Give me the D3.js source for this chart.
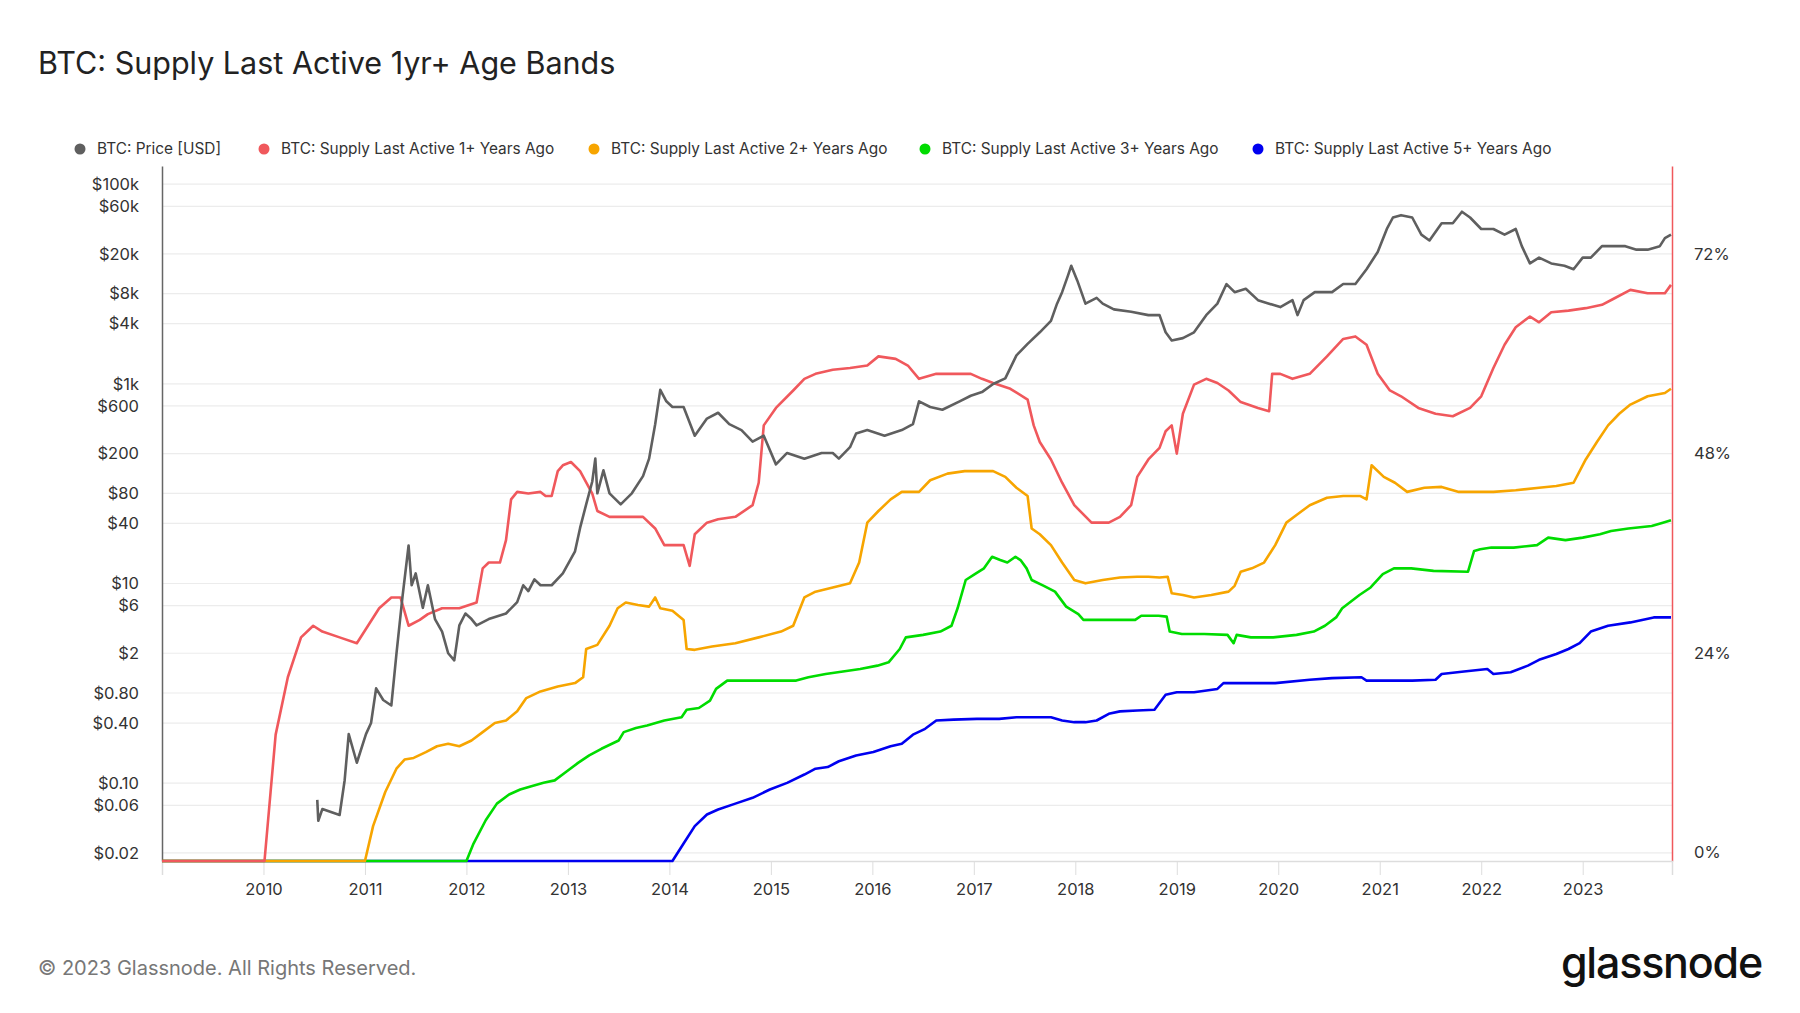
<!DOCTYPE html>
<html><head><meta charset="utf-8">
<script src="https://cdn.jsdelivr.net/npm/d3@7"></script>
<style>body{margin:0;background:#fff;font-family:Inter,"Noto Sans",sans-serif;}</style>
</head><body><svg id="c" width="1800" height="1013"></svg>
<script>
const priceTicks=[0.02,0.06,0.10,0.40,0.80,2,6,10,40,80,200,600,1000,4000,8000,20000,60000,100000];
const priceTickLabels=["$0.02","$0.06","$0.10","$0.40","$0.80","$2","$6","$10","$40","$80","$200","$600","$1k","$4k","$8k","$20k","$60k","$100k"];
const pctTicks=[0,24,48,72];
const yearTicks=[2010,2011,2012,2013,2014,2015,2016,2017,2018,2019,2020,2021,2022,2023];
const seriesNames=["BTC: Price [USD]","BTC: Supply Last Active 1+ Years Ago","BTC: Supply Last Active 2+ Years Ago","BTC: Supply Last Active 3+ Years Ago","BTC: Supply Last Active 5+ Years Ago"];
const seriesColors=["#5f5f5f","#f0585c","#f7a500","#00dc00","#0000f0"];

const price=[[2010.53,0.068],[2010.54,0.042],[2010.58,0.055],[2010.75,0.048],[2010.80,0.107],[2010.84,0.31],[2010.92,0.16],[2011.01,0.31],[2011.06,0.40],[2011.11,0.89],[2011.18,0.68],[2011.26,0.6],[2011.31,1.96],[2011.37,7.4],[2011.43,24],[2011.46,9.6],[2011.50,12.6],[2011.57,5.7],[2011.62,9.6],[2011.69,4.4],[2011.76,3.3],[2011.82,2.0],[2011.88,1.7],[2011.93,3.8],[2011.99,5.0],[2012.05,4.4],[2012.10,3.8],[2012.22,4.4],[2012.39,5.0],[2012.50,6.5],[2012.56,9.6],[2012.61,8.4],[2012.67,11],[2012.73,9.6],[2012.84,9.6],[2012.95,12.6],[2013.07,21],[2013.12,36],[2013.18,62],[2013.24,105],[2013.27,178],[2013.29,80],[2013.35,136],[2013.41,80],[2013.52,62],[2013.63,80],[2013.74,119],[2013.80,178],[2013.86,394],[2013.91,870],[2013.97,668],[2014.03,586],[2014.14,586],[2014.25,302],[2014.37,449],[2014.48,513],[2014.59,394],[2014.71,344],[2014.82,264],[2014.93,302],[2015.05,156],[2015.16,203],[2015.33,178],[2015.50,203],[2015.61,203],[2015.67,178],[2015.78,232],[2015.84,318],[2015.95,344],[2016.12,302],[2016.29,344],[2016.40,394],[2016.46,668],[2016.57,586],[2016.69,550],[2016.86,668],[2016.97,760],[2017.08,826],[2017.19,995],[2017.31,1135],[2017.42,1928],[2017.53,2512],[2017.65,3281],[2017.76,4276],[2017.82,6353],[2017.87,8279],[2017.93,12330],[2017.96,15240],[2018.02,10790],[2018.10,6353],[2018.21,7260],[2018.27,6353],[2018.38,5570],[2018.55,5280],[2018.72,4875],[2018.83,4875],[2018.89,3281],[2018.95,2720],[2019.06,2870],[2019.17,3281],[2019.29,4875],[2019.40,6353],[2019.49,9980],[2019.57,8279],[2019.68,8970],[2019.80,6890],[2019.91,6353],[2020.02,5870],[2020.14,6890],[2020.19,4875],[2020.25,6890],[2020.36,8279],[2020.53,8279],[2020.64,9980],[2020.76,9980],[2020.87,14060],[2020.98,20940],[2021.07,35560],[2021.13,46350],[2021.21,48900],[2021.32,46350],[2021.41,31190],[2021.49,27300],[2021.61,40640],[2021.72,40640],[2021.81,52950],[2021.89,46350],[2022.00,35560],[2022.12,35560],[2022.23,31190],[2022.34,35560],[2022.40,23930],[2022.48,16070],[2022.57,18350],[2022.69,16070],[2022.82,15240],[2022.91,14060],[2023.00,18350],[2023.08,18350],[2023.19,23930],[2023.30,23930],[2023.42,23930],[2023.53,22080],[2023.64,22080],[2023.76,23930],[2023.81,28780],[2023.87,31190]];

const supply1y=[[2009.0,-1],[2010.01,-1],[2010.07,7.3],[2010.12,14.2],[2010.24,21.1],[2010.37,25.9],[2010.49,27.3],[2010.58,26.6],[2010.75,25.9],[2010.92,25.2],[2011.03,27.3],[2011.14,29.4],[2011.26,30.7],[2011.35,30.7],[2011.43,27.3],[2011.54,28.0],[2011.62,28.7],[2011.76,29.4],[2011.93,29.4],[2012.10,30.1],[2012.16,34.2],[2012.22,34.9],[2012.33,34.9],[2012.39,37.6],[2012.44,42.5],[2012.50,43.4],[2012.61,43.2],[2012.73,43.4],[2012.78,42.9],[2012.84,42.9],[2012.90,45.9],[2012.95,46.6],[2013.03,47.0],[2013.12,45.9],[2013.24,43.2],[2013.29,41.1],[2013.41,40.4],[2013.57,40.4],[2013.74,40.4],[2013.86,39.0],[2013.95,37.0],[2014.14,37.0],[2014.20,34.5],[2014.25,38.3],[2014.37,39.7],[2014.48,40.1],[2014.65,40.4],[2014.82,41.8],[2014.88,44.5],[2014.93,51.4],[2015.05,53.5],[2015.22,55.6],[2015.33,57.0],[2015.44,57.6],[2015.61,58.1],[2015.78,58.3],[2015.95,58.6],[2016.06,59.7],[2016.23,59.4],[2016.35,58.6],[2016.46,57.0],[2016.63,57.6],[2016.80,57.6],[2016.97,57.6],[2017.08,57.0],[2017.19,56.5],[2017.36,55.8],[2017.53,54.5],[2017.59,51.4],[2017.65,49.4],[2017.76,47.3],[2017.87,44.5],[2017.99,41.8],[2018.16,39.7],[2018.33,39.7],[2018.44,40.4],[2018.55,41.8],[2018.61,45.2],[2018.72,47.3],[2018.83,48.7],[2018.89,50.7],[2018.95,51.4],[2019.00,48.0],[2019.06,52.8],[2019.17,56.3],[2019.29,57.0],[2019.40,56.5],[2019.51,55.6],[2019.63,54.2],[2019.80,53.5],[2019.91,53.1],[2019.94,57.6],[2020.02,57.6],[2020.14,57.0],[2020.31,57.6],[2020.48,59.7],[2020.64,61.8],[2020.76,62.1],[2020.87,61.1],[2020.98,57.6],[2021.10,55.6],[2021.21,54.9],[2021.38,53.5],[2021.55,52.8],[2021.72,52.5],[2021.89,53.5],[2022.00,54.9],[2022.12,58.3],[2022.23,61.1],[2022.34,63.2],[2022.48,64.5],[2022.57,63.8],[2022.69,65.0],[2022.86,65.2],[2023.03,65.5],[2023.19,65.9],[2023.30,66.6],[2023.47,67.7],[2023.64,67.3],[2023.81,67.3],[2023.87,68.3]];

const supply2y=[[2009.0,-1],[2011.0,-1],[2011.08,3.2],[2011.20,7.3],[2011.31,10.1],[2011.39,11.2],[2011.48,11.4],[2011.60,12.1],[2011.71,12.8],[2011.82,13.1],[2011.93,12.8],[2012.05,13.5],[2012.16,14.5],[2012.28,15.6],[2012.39,15.9],[2012.50,17.0],[2012.59,18.6],[2012.73,19.4],[2012.90,20.0],[2013.07,20.4],[2013.15,21.1],[2013.18,24.5],[2013.29,25.0],[2013.41,27.3],[2013.49,29.4],[2013.57,30.1],[2013.69,29.8],[2013.80,29.6],[2013.86,30.7],[2013.91,29.4],[2014.03,29.1],[2014.14,28.0],[2014.17,24.5],[2014.25,24.4],[2014.42,24.8],[2014.65,25.2],[2014.88,25.9],[2015.10,26.6],[2015.22,27.3],[2015.33,30.7],[2015.44,31.4],[2015.61,31.9],[2015.78,32.4],[2015.87,34.9],[2015.95,39.7],[2016.06,41.1],[2016.18,42.5],[2016.29,43.4],[2016.46,43.4],[2016.57,44.8],[2016.74,45.6],[2016.91,45.9],[2017.08,45.9],[2017.19,45.9],[2017.31,45.2],[2017.42,43.9],[2017.53,42.9],[2017.57,39.0],[2017.65,38.3],[2017.76,37.0],[2017.87,34.9],[2017.99,32.8],[2018.10,32.4],[2018.27,32.8],[2018.44,33.1],[2018.61,33.2],[2018.72,33.2],[2018.83,33.1],[2018.91,33.2],[2018.95,31.2],[2019.06,31.0],[2019.17,30.7],[2019.34,31.0],[2019.51,31.4],[2019.57,32.1],[2019.63,33.8],[2019.74,34.2],[2019.86,34.9],[2019.97,37.0],[2020.08,39.7],[2020.19,40.7],[2020.31,41.8],[2020.48,42.7],[2020.64,42.9],[2020.81,42.9],[2020.87,42.5],[2020.92,46.6],[2021.04,45.2],[2021.15,44.5],[2021.27,43.4],[2021.44,43.9],[2021.61,44.0],[2021.78,43.4],[2021.95,43.4],[2022.12,43.4],[2022.34,43.6],[2022.57,43.9],[2022.74,44.1],[2022.91,44.5],[2023.03,47.3],[2023.14,49.4],[2023.25,51.4],[2023.36,52.8],[2023.47,53.9],[2023.64,54.9],[2023.81,55.3],[2023.87,55.8]];

const supply3y=[[2009.0,-1],[2012.0,-1],[2012.07,1.1],[2012.19,3.9],[2012.30,5.9],[2012.42,7.0],[2012.53,7.6],[2012.64,8.0],[2012.76,8.4],[2012.87,8.7],[2012.99,9.8],[2013.10,10.8],[2013.21,11.7],[2013.33,12.5],[2013.50,13.5],[2013.55,14.5],[2013.67,15.0],[2013.78,15.3],[2013.95,15.9],[2014.12,16.3],[2014.17,17.2],[2014.29,17.4],[2014.40,18.3],[2014.46,19.7],[2014.57,20.7],[2014.69,20.7],[2014.86,20.7],[2015.03,20.7],[2015.25,20.7],[2015.37,21.1],[2015.54,21.5],[2015.71,21.8],[2015.88,22.1],[2016.05,22.5],[2016.16,22.9],[2016.27,24.5],[2016.33,25.9],[2016.50,26.2],[2016.67,26.6],[2016.78,27.3],[2016.84,29.4],[2016.92,32.8],[2017.01,33.5],[2017.10,34.2],[2017.18,35.6],[2017.26,35.2],[2017.33,34.9],[2017.41,35.6],[2017.46,35.2],[2017.52,34.2],[2017.57,32.8],[2017.69,32.1],[2017.80,31.4],[2017.91,29.6],[2018.03,28.7],[2018.08,28.0],[2018.25,28.0],[2018.48,28.0],[2018.59,28.0],[2018.65,28.5],[2018.82,28.5],[2018.90,28.4],[2018.93,26.6],[2019.05,26.3],[2019.27,26.3],[2019.50,26.2],[2019.56,25.2],[2019.59,26.2],[2019.73,25.9],[2019.95,25.9],[2020.18,26.2],[2020.35,26.6],[2020.46,27.3],[2020.57,28.3],[2020.63,29.4],[2020.80,31.0],[2020.91,31.9],[2021.03,33.5],[2021.14,34.2],[2021.31,34.2],[2021.53,33.9],[2021.87,33.8],[2021.93,36.3],[2021.99,36.5],[2022.10,36.7],[2022.32,36.7],[2022.55,37.0],[2022.66,37.9],[2022.83,37.6],[2023.00,37.9],[2023.17,38.3],[2023.28,38.7],[2023.45,39.0],[2023.68,39.3],[2023.79,39.7],[2023.87,40.0]];

const supply5y=[[2009.0,-1],[2014.03,-1],[2014.14,1.1],[2014.25,3.2],[2014.37,4.6],[2014.48,5.2],[2014.65,5.9],[2014.82,6.6],[2014.99,7.6],[2015.16,8.4],[2015.33,9.4],[2015.44,10.1],[2015.56,10.3],[2015.67,11.0],[2015.84,11.7],[2016.01,12.1],[2016.18,12.8],[2016.29,13.1],[2016.40,14.2],[2016.52,14.9],[2016.63,15.9],[2016.80,16.0],[2017.03,16.1],[2017.25,16.1],[2017.42,16.3],[2017.59,16.3],[2017.76,16.3],[2017.87,15.9],[2017.99,15.7],[2018.10,15.7],[2018.21,15.9],[2018.33,16.7],[2018.44,17.0],[2018.61,17.1],[2018.78,17.2],[2018.89,19.0],[2019.00,19.3],[2019.17,19.3],[2019.40,19.7],[2019.46,20.4],[2019.63,20.4],[2019.86,20.4],[2019.97,20.4],[2020.31,20.8],[2020.53,21.0],[2020.82,21.1],[2020.87,20.7],[2021.10,20.7],[2021.32,20.7],[2021.55,20.8],[2021.61,21.5],[2021.83,21.8],[2022.06,22.1],[2022.12,21.5],[2022.29,21.7],[2022.46,22.5],[2022.57,23.2],[2022.74,23.9],[2022.86,24.5],[2022.97,25.2],[2023.08,26.6],[2023.25,27.3],[2023.47,27.7],[2023.70,28.3],[2023.87,28.3]];

const svg=d3.select("#c");
const L=162,R=1672,T=166,B=861;
const x=d3.scaleLinear().domain([2009.0,2023.88]).range([L,R]);
const yP=d3.scaleLog().domain([0.0166,152000]).range([B,T]);
const yS=d3.scaleLinear().domain([-1,82.6]).range([B,T]);

svg.append("text").attr("x",38).attr("y",74).attr("font-size",30.5).attr("fill","#222").text("BTC: Supply Last Active 1yr+ Age Bands");

svg.append("g").selectAll("line").data(priceTicks).join("line")
 .attr("x1",L).attr("x2",R).attr("y1",d=>yP(d)).attr("y2",d=>yP(d)).attr("stroke","#ececec").attr("stroke-width",1.2);
const yl=d3.axisLeft(yP).tickValues(priceTicks).tickFormat((d,i)=>priceTickLabels[i]).tickSize(0).tickPadding(23);
const gl=svg.append("g").attr("transform",`translate(${L},0)`).call(yl);
gl.select(".domain").attr("stroke","#666").attr("stroke-width",1.5);
gl.selectAll("text").attr("font-size",16.5).attr("fill","#333").attr("font-family","Inter,sans-serif");
const yr=d3.axisRight(yS).tickValues(pctTicks).tickFormat(d=>d+"%").tickSize(0).tickPadding(22);
const gr=svg.append("g").attr("transform",`translate(${R},0)`).call(yr);
gr.select(".domain").attr("stroke","#f0585c").attr("stroke-width",1.5);
gr.selectAll("text").attr("font-size",16.5).attr("fill","#333").attr("font-family","Inter,sans-serif");
const xa=d3.axisBottom(x).tickValues(yearTicks).tickFormat(d3.format("d")).tickSize(14).tickPadding(8);
const gx=svg.append("g").attr("transform",`translate(0,${B})`).call(xa);
gx.select(".domain").attr("stroke","#ddd").attr("stroke-width",1.5);
gx.selectAll(".tick line").attr("stroke","#ddd");
gx.selectAll("text").attr("font-size",16.5).attr("fill","#333").attr("font-family","Inter,sans-serif");

const lineP=d3.line().x(d=>x(d[0])).y(d=>yP(d[1]));
const lineS=d3.line().x(d=>x(d[0])).y(d=>yS(d[1]));
const sets=[[supply5y,4],[supply3y,3],[supply2y,2],[supply1y,1]];
sets.forEach(([d,i])=>svg.append("path").datum(d).attr("d",lineS).attr("fill","none").attr("stroke",seriesColors[i]).attr("stroke-width",2.6).attr("stroke-linejoin","round"));
svg.append("path").datum(price).attr("d",lineP).attr("fill","none").attr("stroke",seriesColors[0]).attr("stroke-width",2.6).attr("stroke-linejoin","round");

const legX=[80,264,594,925,1258];
const lg=svg.append("g").selectAll("g").data(seriesNames).join("g").attr("transform",(d,i)=>`translate(${legX[i]},149)`);
lg.append("circle").attr("r",5.5).attr("fill",(d,i)=>seriesColors[i]);
lg.append("text").attr("x",17).attr("dy","0.35em").attr("font-size",15.4).attr("fill","#333").text(d=>d);

svg.append("text").attr("x",38).attr("y",975).attr("font-size",20).attr("fill","#777").text("© 2023 Glassnode. All Rights Reserved.");
svg.append("text").attr("x",1762).attr("y",978).attr("text-anchor","end").attr("font-size",43).attr("font-weight",500).attr("fill","#111").attr("letter-spacing","-1.2").text("glassnode");
</script></body></html>
